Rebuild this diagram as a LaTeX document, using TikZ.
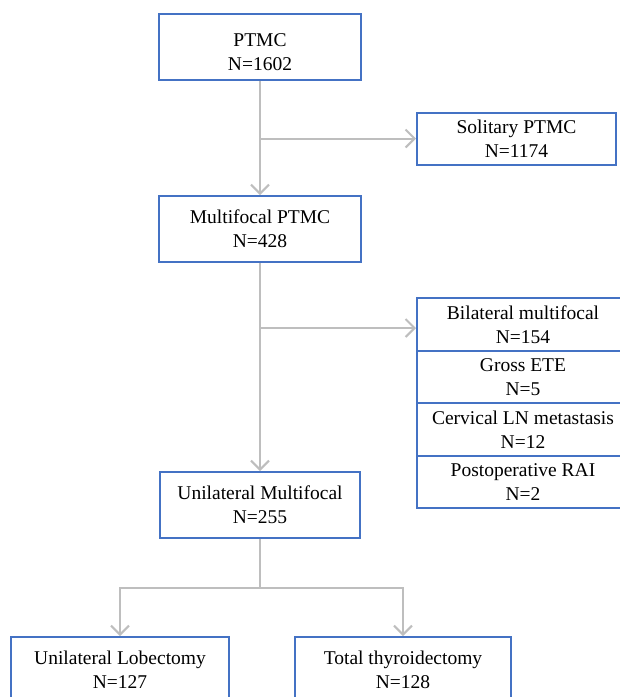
\documentclass[tikz,border=0pt]{standalone}
\usepackage{fontspec}
\setmainfont{Liberation Serif}
\usetikzlibrary{arrows.meta}
\begin{document}
\begin{tikzpicture}[x=1pt,y=-1pt,
  box/.style={draw=boxblue, line width=2pt, rectangle, inner sep=0pt, align=center,
    font=\fontsize{19.5}{24}\selectfont},
  conn/.style={draw=linegray, line width=2pt},
  arr/.style={conn, -{Straight Barb[length=9pt,width=18pt,line width=2pt]}}]
\definecolor{boxblue}{RGB}{68,114,196}
\definecolor{linegray}{RGB}{190,190,190}
\useasboundingbox (0,0) rectangle (620,697);
\clip (0,0) rectangle (620,697);
\fill[white] (0,0) rectangle (620,697);
\node[box, minimum width=202pt, minimum height=66pt] (ptmc) at (260,47) {\rule{0pt}{24pt}PTMC\\N=1602};
\node[box, minimum width=199pt, minimum height=52pt] (sol) at (516.5,138.5) {Solitary PTMC\\N=1174};
\node[box, minimum width=202pt, minimum height=66pt] (multi) at (260,229) {Multifocal PTMC\\N=428};
\node[box, minimum width=212pt, minimum height=52.5pt] (bil) at (523,324.25) {Bilateral multifocal\\N=154};
\node[box, minimum width=212pt, minimum height=52.5pt] (gross) at (523,376.75) {Gross ETE\\N=5};
\node[box, minimum width=212pt, minimum height=52.5pt] (cerv) at (523,429.25) {Cervical LN metastasis\\N=12};
\node[box, minimum width=212pt, minimum height=52.5pt] (rai) at (523,481.75) {Postoperative RAI\\N=2};
\node[box, minimum width=200pt, minimum height=66pt] (uni) at (260,505) {Unilateral Multifocal\\N=255};
\node[box, minimum width=218pt, minimum height=66pt] (lob) at (120,670) {Unilateral Lobectomy\\N=127};
\node[box, minimum width=216pt, minimum height=66pt] (tot) at (403,670) {Total thyroidectomy\\N=128};
\coordinate (b1) at (260,138.5);
\coordinate (b2) at (260,328);
\coordinate (j) at (260,588);
\draw[arr] (ptmc) -- (multi);
\draw[arr] (b1) -- (sol.west);
\draw[arr] (multi) -- (uni);
\draw[arr] (b2) -- (b2 -| bil.west);
\draw[conn] (uni) -- (j);
\draw[arr] (j) -| (lob);
\draw[arr] (j) -| (tot);
\end{tikzpicture}
\end{document}
